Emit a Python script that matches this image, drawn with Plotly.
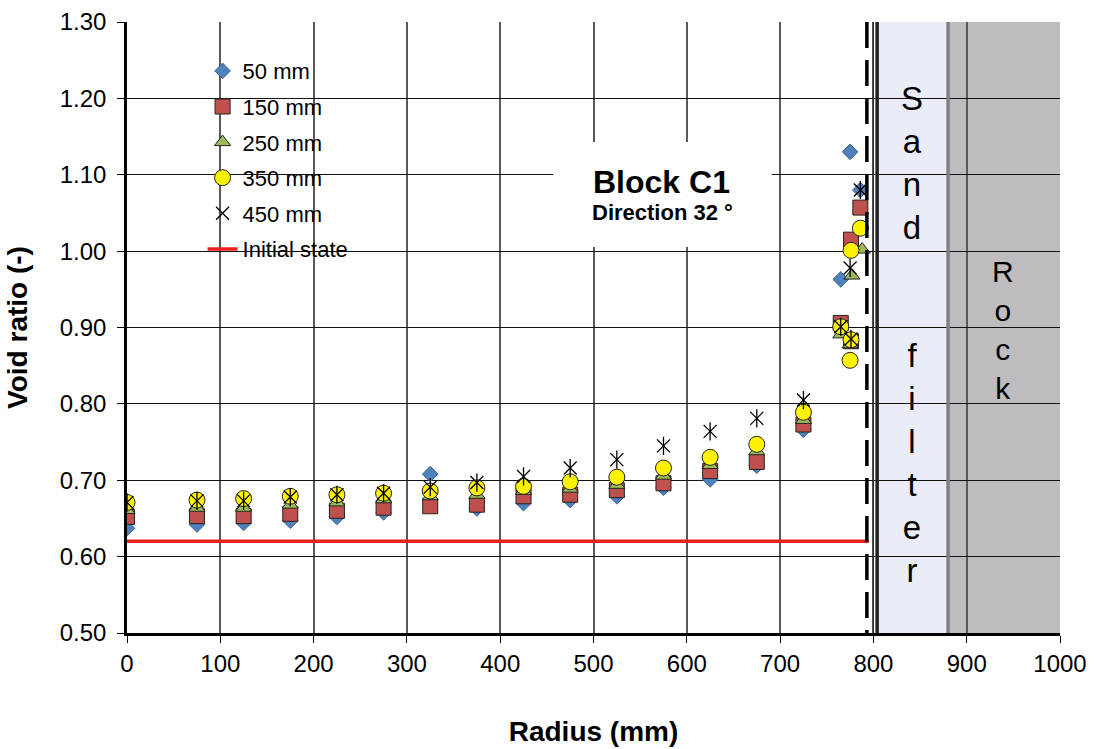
import plotly.graph_objects as go

# ---------------- data ----------------
x_main = [0, 75, 125, 175, 225, 275, 325, 375, 425, 475, 525, 575, 625, 675, 725]

x_50 = x_main + [765, 775, 786]
e_50 = [0.637, 0.642, 0.644, 0.647, 0.652, 0.658, 0.708, 0.663, 0.670, 0.674, 0.679, 0.690, 0.701, 0.719, 0.766,
        0.963, 1.130, 1.080]

x_150 = x_main + [765, 776, 776, 786]
e_150 = [0.652, 0.653, 0.653, 0.656, 0.660, 0.664, 0.666, 0.668, 0.679, 0.681, 0.687, 0.696, 0.712, 0.724, 0.773,
         0.906, 0.882, 1.015, 1.057]

x_250 = x_main + [765, 775, 777, 788]
e_250 = [0.661, 0.664, 0.664, 0.668, 0.671, 0.675, 0.679, 0.681, 0.686, 0.689, 0.694, 0.706, 0.720, 0.738, 0.779,
         0.891, 0.878, 0.968, 1.002]

x_350 = x_main + [765, 776, 775, 776, 786]
e_350 = [0.671, 0.674, 0.676, 0.679, 0.681, 0.683, 0.686, 0.690, 0.692, 0.698, 0.704, 0.716, 0.730, 0.747, 0.789,
         0.901, 0.884, 0.857, 1.001, 1.030]

x_450 = x_main + [765, 776, 775, 786]
e_450 = [0.671, 0.673, 0.673, 0.678, 0.681, 0.683, 0.691, 0.697, 0.705, 0.716, 0.727, 0.745, 0.764, 0.781, 0.805,
         0.901, 0.885, 0.978, 1.080]

initial_x = [0, 795]
initial_y = [0.62, 0.62]

series_names = ["50 mm", "150 mm", "250 mm", "350 mm", "450 mm"]

# zone boundaries (mm)
dash_r = 793
sand_start = 804
sand_end = 880
rock_end = 1000

FONT = "Arial, 'Liberation Sans', sans-serif"

fig = go.Figure()

fig.add_trace(go.Scatter(x=x_50, y=e_50, mode="markers", name=series_names[0], legendgroup="a",
                         marker=dict(symbol="diamond", size=12, color="#4F81BD",
                                     line=dict(color="#3A5F8C", width=1))))
fig.add_trace(go.Scatter(x=x_150, y=e_150, mode="markers", name=series_names[1], legendgroup="b",
                         marker=dict(symbol="square", size=15, color="#C0504D",
                                     line=dict(color="#222222", width=1))))
fig.add_trace(go.Scatter(x=x_250, y=e_250, mode="markers", name=series_names[2], legendgroup="c",
                         marker=dict(symbol="triangle-up", size=14, color="#9BBB59",
                                     line=dict(color="#222222", width=1))))
fig.add_trace(go.Scatter(x=x_350, y=e_350, mode="markers", name=series_names[3], legendgroup="d",
                         marker=dict(symbol="circle", size=16, color="#FFF200",
                                     line=dict(color="#222222", width=1))))
fig.add_trace(go.Scatter(x=x_450, y=e_450, mode="markers", name=series_names[4], legendgroup="e",
                         marker=dict(symbol="x-thin-open", size=13, color="#000000",
                                     line=dict(color="#000000", width=1.3))))
fig.add_trace(go.Scatter(x=x_450, y=e_450, mode="markers", showlegend=False, legendgroup="e",
                         hoverinfo="skip",
                         marker=dict(symbol="line-ns-open", size=13, color="#000000",
                                     line=dict(color="#000000", width=1.3))))
fig.add_trace(go.Scatter(x=initial_x, y=initial_y, mode="lines", name="Initial state", legendgroup="f",
                         line=dict(color="#E8201E", width=3.5)))

shapes = [
    dict(type="rect", xref="x", yref="y", x0=sand_start, x1=sand_end, y0=0.5, y1=1.3,
         fillcolor="#EAEDF7", line=dict(width=0), layer="below"),
    dict(type="rect", xref="x", yref="y", x0=sand_end, x1=rock_end, y0=0.5, y1=1.3,
         fillcolor="#BEBCBE", line=dict(width=0), layer="below"),
    dict(type="rect", xref="x", yref="y", x0=457, x1=691, y0=1.0055, y1=1.143,
         fillcolor="white", line=dict(width=0), layer="between"),
    dict(type="line", xref="x", yref="y", x0=800, x1=800, y0=0.5, y1=1.3,
         line=dict(color="#333333", width=1.3), layer="between"),
    dict(type="line", xref="x", yref="y", x0=sand_start, x1=sand_start, y0=0.5, y1=1.3,
         line=dict(color="#222222", width=3.5), layer="between"),
    dict(type="line", xref="x", yref="y", x0=sand_end, x1=sand_end, y0=0.5, y1=1.3,
         line=dict(color="#808080", width=3.5), layer="between"),
    dict(type="line", xref="x", yref="y", x0=dash_r, x1=dash_r, y0=1.3, y1=0.5,
         line=dict(color="#000000", width=3.5, dash="26px,12px"), layer="above"),
]

annotations = [
    dict(x=573, y=1.0906, xref="x", yref="y", text="<b>Block C1</b>", showarrow=False,
         font=dict(family=FONT, size=32, color="black"), xanchor="center", yanchor="middle"),
    dict(x=574, y=1.05, xref="x", yref="y", text="<b>Direction 32 °</b>", showarrow=False,
         font=dict(family=FONT, size=22, color="black"), xanchor="center", yanchor="middle"),
    dict(x=841, y=0.891, xref="x", yref="y",
         text="S<br>a<br>n<br>d<br> <br> <br>f<br>i<br>l<br>t<br>e<br>r", showarrow=False,
         font=dict(family=FONT, size=33, color="black"), xanchor="center", yanchor="middle"),
    dict(x=938.6, y=0.897, xref="x", yref="y", text="R<br>o<br>c<br>k", showarrow=False,
         font=dict(family=FONT, size=30, color="black"), xanchor="center", yanchor="middle"),
]

fig.update_layout(
    width=1095, height=749,
    margin=dict(l=127, r=35, t=22, b=116, autoexpand=False),
    paper_bgcolor="white", plot_bgcolor="white",
    font=dict(family=FONT, color="black"),
    shapes=shapes, annotations=annotations,
    showlegend=True,
    legend=dict(x=0.081, y=0.954, xanchor="left", yanchor="top", bgcolor="rgba(0,0,0,0)",
                font=dict(family=FONT, size=22, color="black"), tracegroupgap=4, itemwidth=30),
    xaxis=dict(range=[0, 1000], dtick=100, tick0=0, ticks="outside", ticklen=7, tickcolor="black",
               tickwidth=1.3, showline=True, linecolor="black", linewidth=2.5,
               showgrid=True, gridcolor="#595959", gridwidth=1.5, zeroline=False,
               tickfont=dict(family=FONT, size=24, color="black"), ticklabelstandoff=0,
               title=dict(text="<b>Radius (mm)</b>", font=dict(family=FONT, size=28, color="black"),
                          standoff=46)),
    yaxis=dict(range=[0.5, 1.3], dtick=0.1, tick0=0.5, tickformat=".2f", ticks="outside", ticklen=7,
               tickcolor="black", tickwidth=1.3, showline=True, linecolor="black", linewidth=2.5,
               showgrid=True, gridcolor="#111111", gridwidth=1.3, zeroline=False,
               tickfont=dict(family=FONT, size=24, color="black"), ticklabelstandoff=6,
               title=dict(text="<b>Void ratio (-)</b>", font=dict(family=FONT, size=28, color="black"),
                          standoff=24)),
)

fig.write_html("out.html")
